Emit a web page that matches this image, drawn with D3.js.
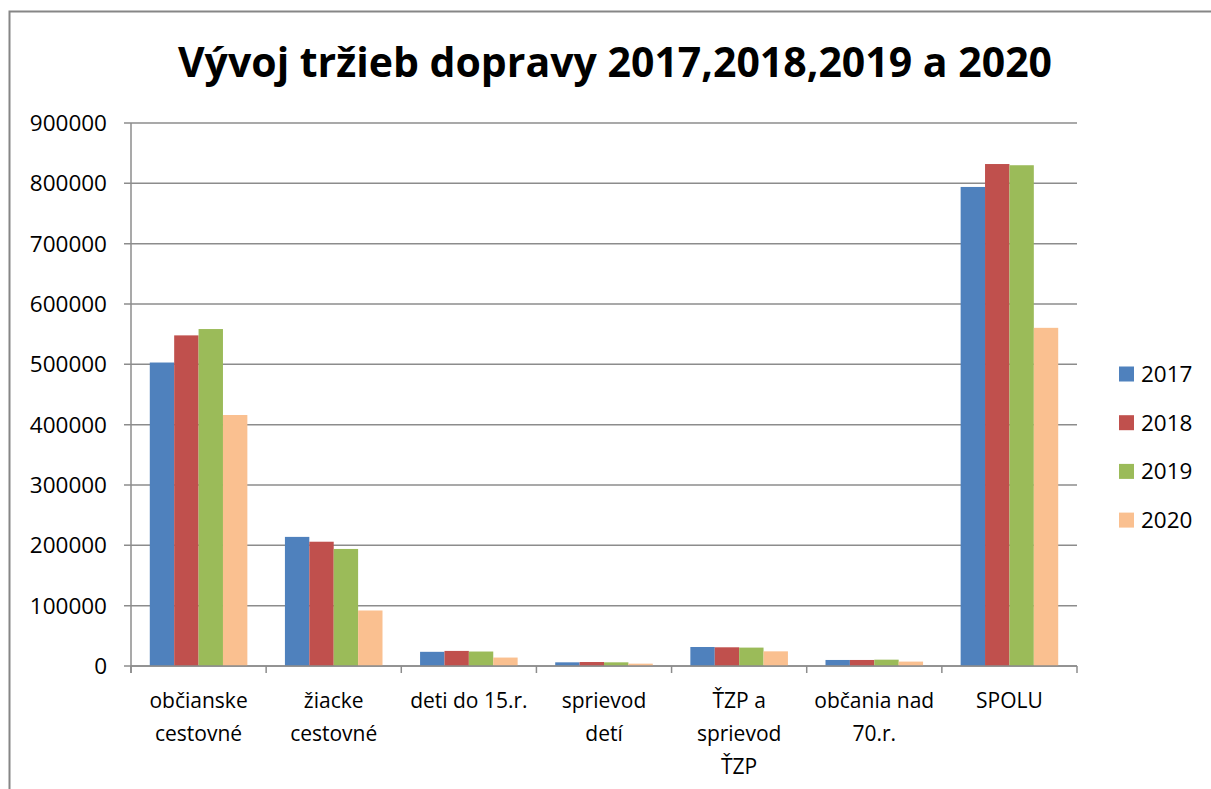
<!DOCTYPE html>
<html>
<head>
<meta charset="utf-8">
<script src="https://cdn.jsdelivr.net/npm/d3@7"></script>
<style>
	body { margin: 0; background: #fff; }
	text { font-family: "Open Sans", "DejaVu Sans", sans-serif; fill: #000; }
</style>
</head>
<body>
<svg id="chart" width="1211" height="789"></svg>
<script>
var categories = [
	["občianske", "cestovné"],
	["žiacke", "cestovné"],
	["deti do 15.r."],
	["sprievod", "detí"],
	["ŤZP a", "sprievod", "ŤZP"],
	["občania nad", "70.r."],
	["SPOLU"]
];
var years = ["2017", "2018", "2019", "2020"];
var values2017 = [503000, 214000, 23500, 6100, 31500, 10000, 794000];
var values2018 = [548000, 206000, 25000, 6600, 31000, 10000, 832000];
var values2019 = [558500, 194000, 24000, 6100, 30500, 10500, 830000];
var values2020 = [416000, 92000, 14000, 3900, 24300, 7300, 560500];
var yTicks = [0, 100000, 200000, 300000, 400000, 500000, 600000, 700000, 800000, 900000];
var colors = ["#4F81BD", "#C0504D", "#9BBB59", "#FAC090"];

buildChart();

function buildChart() {
	var svg = d3.select("#chart");
	var series = [values2017, values2018, values2019, values2020];

	var plot = { left: 131, right: 1077, top: 123, bottom: 666 };

	// chart frame (right and bottom edges fall outside the picture)
	svg.append("rect")
		.attr("x", 9.5).attr("y", 11.5)
		.attr("width", 1220).attr("height", 800)
		.attr("fill", "none")
		.attr("stroke", "#868686")
		.attr("stroke-width", 2);

	svg.append("text")
		.attr("x", 615).attr("y", 77)
		.attr("text-anchor", "middle")
		.style("font-size", "41px")
		.style("font-weight", "bold")
		.text("Vývoj tržieb dopravy 2017,2018,2019 a 2020");

	var x = d3.scaleBand()
		.domain(d3.range(categories.length))
		.range([plot.left, plot.right])
		.paddingInner(0)
		.paddingOuter(0);

	var xInner = d3.scaleBand()
		.domain(d3.range(years.length))
		.range([0, x.bandwidth()])
		.paddingOuter(0.77)
		.paddingInner(0);

	var y = d3.scaleLinear()
		.domain([0, 900000])
		.range([plot.bottom, plot.top]);

	// gridlines
	svg.append("g")
		.selectAll("line")
		.data(yTicks)
		.enter().append("line")
			.attr("x1", plot.left - 7)
			.attr("x2", plot.right)
			.attr("y1", function(d) { return y(d); })
			.attr("y2", function(d) { return y(d); })
			.attr("stroke", "#8c8c8c")
			.attr("stroke-width", 1.5);

	// y tick labels
	svg.append("g")
		.selectAll("text")
		.data(yTicks)
		.enter().append("text")
			.attr("x", plot.left - 24)
			.attr("y", function(d) { return y(d); })
			.attr("dy", "0.35em")
			.attr("text-anchor", "end")
			.style("font-size", "22.5px")
			.text(function(d) { return d; });

	// bars
	var groups = svg.append("g")
		.selectAll("g")
		.data(categories)
		.enter().append("g")
			.attr("transform", function(d, i) { return "translate(" + x(i) + ",0)"; });

	groups.selectAll("rect")
		.data(function(d, i) { return series.map(function(s, k) { return { k: k, v: s[i] }; }); })
		.enter().append("rect")
			.attr("x", function(d) { return xInner(d.k); })
			.attr("width", xInner.bandwidth())
			.attr("y", function(d) { return y(d.v); })
			.attr("height", function(d) { return y(0) - y(d.v); })
			.attr("fill", function(d) { return colors[d.k]; });

	// axes lines
	svg.append("line")
		.attr("x1", plot.left).attr("x2", plot.left)
		.attr("y1", plot.top).attr("y2", plot.bottom + 7)
		.attr("stroke", "#8c8c8c").attr("stroke-width", 1.5);

	svg.append("line")
		.attr("x1", plot.left).attr("x2", plot.right)
		.attr("y1", plot.bottom).attr("y2", plot.bottom)
		.attr("stroke", "#8c8c8c").attr("stroke-width", 1.5);

	svg.append("g")
		.selectAll("line")
		.data(d3.range(categories.length + 1))
		.enter().append("line")
			.attr("x1", function(d) { return plot.left + d * x.bandwidth(); })
			.attr("x2", function(d) { return plot.left + d * x.bandwidth(); })
			.attr("y1", plot.bottom)
			.attr("y2", plot.bottom + 7)
			.attr("stroke", "#8c8c8c").attr("stroke-width", 1.5);

	// category labels
	var labels = svg.append("g")
		.selectAll("text")
		.data(categories)
		.enter().append("text")
			.attr("text-anchor", "middle")
			.style("font-size", "21px")
			.attr("x", function(d, i) { return x(i) + x.bandwidth() / 2; })
			.attr("y", 708);

	labels.selectAll("tspan")
		.data(function(d) { return d; })
		.enter().append("tspan")
			.attr("x", function() { return d3.select(this.parentNode).attr("x"); })
			.attr("dy", function(d, i) { return i === 0 ? 0 : 33; })
			.text(function(d) { return d; });

	// legend
	var legend = svg.append("g")
		.selectAll("g")
		.data(years)
		.enter().append("g")
			.attr("transform", function(d, i) { return "translate(1119," + (374 + i * 48.7) + ")"; });

	legend.append("rect")
		.attr("x", 0).attr("y", -7.5)
		.attr("width", 15).attr("height", 15)
		.attr("fill", function(d, i) { return colors[i]; });

	legend.append("text")
		.attr("x", 22).attr("y", 0)
		.attr("dy", "0.35em")
		.style("font-size", "22.5px")
		.text(function(d) { return d; });
}
</script>
</body>
</html>
